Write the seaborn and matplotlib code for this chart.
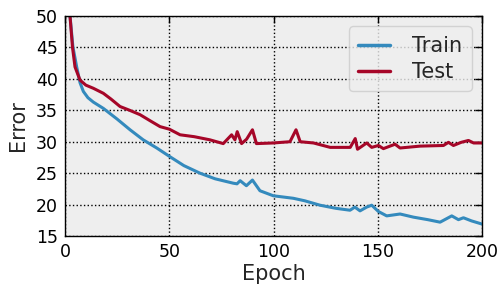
import matplotlib
matplotlib.use("Agg")
import matplotlib.pyplot as plt
import seaborn as sns
import pandas as pd

# Data
train_epoch = [1, 2.4, 3.8, 5.6, 7.2, 8.8, 11, 13.6, 18.4, 25, 31.2, 37.5, 44, 50.4, 57, 64.7, 72,
               80.7, 82.5, 84, 87, 89.9, 93.5, 99.9, 109.5, 115, 122.3, 130, 136.7, 139, 141.5,
               144.7, 147.1, 150.3, 154.3, 160.7, 167.1, 174, 179.9, 185.5, 188.7, 191.1, 195, 200]
train_err = [55, 50, 45.1, 41.9, 39.4, 38.0, 37.0, 36.3, 35.3, 33.6, 31.9, 30.3, 29.0, 27.6, 26.2,
             25.0, 24.1, 23.4, 23.3, 23.8, 23.0, 23.9, 22.2, 21.4, 21.0, 20.6, 19.9, 19.4, 19.1,
             19.6, 19.0, 19.6, 19.9, 18.9, 18.2, 18.5, 18.0, 17.6, 17.2, 18.2, 17.6, 17.9, 17.4, 16.9]
test_epoch = [1, 2.4, 3.6, 4.8, 7.2, 10, 13.6, 18.4, 22, 26.4, 31, 36, 41, 45.6, 50, 55.2, 62, 69.5,
              75.9, 79.9, 81.5, 82.6, 84.7, 87.1, 89.9, 91.8, 99.9, 107.9, 110.8, 112.8, 119.2,
              127.2, 136.8, 139.2, 140.3, 144.7, 147.1, 150.3, 152.7, 158.3, 160.7, 170.3, 181.5,
              183.9, 186.3, 190, 193.5, 196, 200]
test_err = [55, 50, 45, 41.9, 39.8, 39.0, 38.5, 37.7, 36.8, 35.6, 35.0, 34.3, 33.3, 32.4, 32.0,
            31.1, 30.8, 30.3, 29.7, 31.1, 30.3, 31.6, 29.7, 30.4, 31.9, 29.7, 29.8, 30.0, 31.9,
            30.0, 29.8, 29.1, 29.1, 30.5, 28.8, 29.8, 29.1, 29.4, 28.9, 29.6, 29.0, 29.3, 29.4,
            29.9, 29.4, 29.9, 30.2, 29.8, 29.8]

df = pd.concat([
    pd.DataFrame({"Epoch": train_epoch, "Error": train_err, "set": "Train"}),
    pd.DataFrame({"Epoch": test_epoch, "Error": test_err, "set": "Test"}),
])

sns.set_style("white")
plt.rcParams["font.family"] = ["DejaVu Sans"]

fig = plt.figure(figsize=(4.99, 2.85), dpi=100)
ax = fig.add_axes([65/499, 1-236/285, (482-65)/499, (236-16)/285])
ax.set_facecolor("#eeeeee")

sns.lineplot(data=df, x="Epoch", y="Error", hue="set", hue_order=["Train", "Test"],
             palette={"Train": "#348ABD", "Test": "#A60628"}, linewidth=2.2, ax=ax,
             sort=False, estimator=None)

ax.set_xlim(0, 200)
ax.set_ylim(15, 50)
ax.set_xticks([0, 50, 100, 150, 200])
ax.set_yticks([15, 20, 25, 30, 35, 40, 45, 50])
ax.grid(True, linestyle=":", color="black", linewidth=1)
ax.set_axisbelow(True)
for s in ax.spines.values():
    s.set_color("black")
    s.set_linewidth(1)
ax.tick_params(direction="in", length=5, width=1, top=True, right=True, labelsize=12.5, pad=5,
               colors="black")
ax.set_xlabel("Epoch", fontsize=15, labelpad=2)
ax.set_ylabel("Error", fontsize=15, labelpad=6)

leg = ax.legend(loc="upper right", fontsize=15, frameon=True, fancybox=True,
                handlelength=1.55, handletextpad=1.05, labelspacing=0.3, borderpad=0.45,
                borderaxespad=0.5)
leg.get_frame().set_facecolor("#eeeeee")
leg.get_frame().set_edgecolor("#cccccc")
for l in leg.get_lines():
    l.set_linewidth(2.5)

fig.savefig("out.png", dpi=100)
